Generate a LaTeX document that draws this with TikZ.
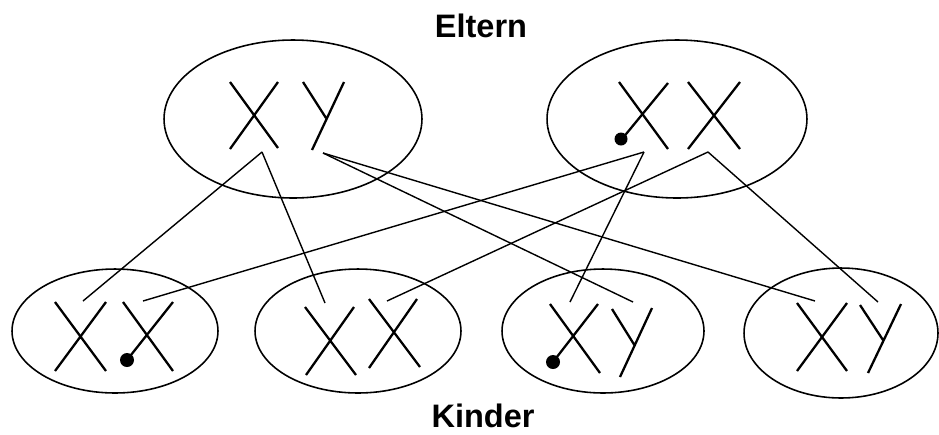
\documentclass[tikz,border=0pt]{standalone}
\usepackage{fontspec}
\setmainfont{Liberation Sans}
\usetikzlibrary{shapes.geometric}
\tikzset{
  huelle/.style={ellipse, draw, line width=0.9pt, inner sep=0pt},
  chrom/.style={line width=1.3pt},
  link/.style={line width=0.8pt},
  titel/.style={font=\bfseries\fontsize{18.5}{20}\selectfont, anchor=base, inner sep=0pt}
}
\begin{document}
\begin{tikzpicture}[x=0.02cm, y=-0.02cm]
      \useasboundingbox (0,0) rectangle (939,434);
      % Eltern
      \node[huelle, minimum width=5.16cm, minimum height=3.16cm] (e1) at (293,119) {};
      \node[huelle, minimum width=5.2cm, minimum height=3.16cm] (e2) at (677,119) {};
      % Kinder
      \node[huelle, minimum width=4.12cm, minimum height=2.48cm] (k1) at (115,331) {};
      \node[huelle, minimum width=4.12cm, minimum height=2.48cm] (k2) at (358,331) {};
      \node[huelle, minimum width=4.04cm, minimum height=2.48cm] (k3) at (603,331) {};
      \node[huelle, minimum width=3.88cm, minimum height=2.6cm] (k4) at (841,333) {};
      \node[titel] (eltern) at (481,37) {Eltern};
      \node[titel] (kinder) at (483,427) {Kinder};
      \begin{scope}[chrom]
        % e1: X Y
        \draw (230,82) -- (278,148) (278,82) -- (230,149);
        \draw (303,82) -- (326,118) (344,82) -- (312,150);
        % e2: X X
        \draw (619,82) -- (668,149) (668,83) -- (622,139);
        \draw (688,82) -- (740,149) (740,82) -- (688,149);
        % k1: X X
        \draw (55,302) -- (106,371) (106,302) -- (55,371);
        \draw (123,302) -- (173,371) (173,302) -- (127,360);
        % k2: X X
        \draw (305,307) -- (356,375) (354,307) -- (306,375);
        \draw (369,299) -- (420,367) (417,299) -- (369,368);
        % k3: X Y
        \draw (550,304) -- (600,373) (598,304) -- (553,362);
        \draw (612,309) -- (635,346) (652,308) -- (620,377);
        % k4: X Y
        \draw (797,303) -- (847,371) (847,303) -- (797,371);
        \draw (860,305) -- (883,340) (901,304) -- (868,373);
      \end{scope}
      \fill (621,139) circle [radius=0.13cm];
      \fill (127,360) circle [radius=0.14cm];
      \fill (553,362) circle [radius=0.14cm];
      \coordinate (e1a) at (262,152);
      \coordinate (e1b) at (323,153);
      \coordinate (e2a) at (644,152);
      \coordinate (e2b) at (708,152);
      \coordinate (k1a) at (83,301);
      \coordinate (k1b) at (143,301);
      \coordinate (k2a) at (325,303);
      \coordinate (k2b) at (387,301);
      \coordinate (k3a) at (570,302);
      \coordinate (k3b) at (633,302);
      \coordinate (k4a) at (815,301);
      \coordinate (k4b) at (878,302);
      \begin{scope}[link]
        \draw (e1a) to (k1a);
        \draw (e1a) to (k2a);
        \draw (e1b) to (k3b);
        \draw (e1b) to (k4a);
        \draw (e2a) to (k1b);
        \draw (e2a) to (k3a);
        \draw (e2b) to (k2b);
        \draw (e2b) to (k4b);
      \end{scope}
    \end{tikzpicture}
\end{document}
